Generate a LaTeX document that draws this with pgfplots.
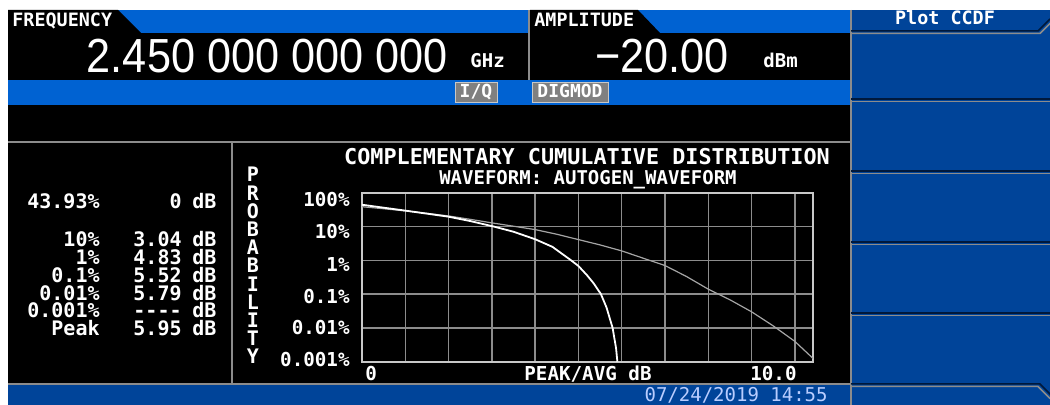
\documentclass[border=0pt]{standalone}
\usepackage{fontspec}
\usepackage{pgfplots}
\pgfplotsset{compat=1.18}
\setmainfont{Liberation Sans}
\newfontfamily\term{DejaVu Sans Mono}
\newfontfamily\bignum{Liberation Sans}
\newcommand{\fs}[1]{\fontsize{#1}{#1}\selectfont}
\definecolor{hdrblue}{RGB}{0,98,210}
\definecolor{keyblue}{RGB}{0,68,153}
\definecolor{lgray}{RGB}{140,140,140}
\definecolor{boxgray}{RGB}{200,200,200}
\definecolor{datecol}{RGB}{185,205,255}
\definecolor{btngray}{RGB}{128,128,128}
\definecolor{keydark}{RGB}{0,25,60}
\definecolor{refgray}{RGB}{165,165,165}
\begin{document}
\begin{tikzpicture}[x=0.5pt,y=-0.5pt]
\useasboundingbox (0,0) rectangle (1050,405);
\clip (0,0) rectangle (1050,405);
\fill[white] (0,0) rectangle (1050,405);
% top header
\fill[hdrblue] (8,10) rectangle (850,33);
\fill[black] (8,33) rectangle (850,80);
\fill[black] (8,10) -- (118,10) -- (141,33) -- (8,33) -- cycle;
\fill[black] (530,10) -- (638,10) -- (660,33) -- (530,33) -- cycle;
\draw[lgray, line width=0.75pt] (529,10) -- (529,80);
\fill[hdrblue] (8,80) rectangle (850,105);
\fill[black] (8,105) rectangle (850,385);
\draw[lgray, line width=1pt] (8,142.5) -- (850,142.5);
\draw[lgray, line width=1pt] (232,142.5) -- (232,384);
\draw[lgray, line width=1pt] (8,384) -- (850,384);
\fill[keyblue] (8,385) rectangle (850,405);
% softkeys
\fill[keyblue] (850,10) rectangle (1050,405);
\draw[lgray, line width=1pt] (850.5,10) -- (850.5,405);
\draw[keydark, line width=0.75pt] (851,31) -- (1038,31) -- (1050,19);
\draw[lgray, line width=0.75pt] (851,33.5) -- (1040,33.5) -- (1052,21.5);
\foreach \yd in {99,171,242,313}{
  \draw[keydark, line width=0.75pt] (851,\yd) -- (1050,\yd);
  \draw[lgray, line width=0.75pt] (851,\yd+2.5) -- (1050,\yd+2.5);
}
\draw[keydark, line width=0.75pt] (851,384) -- (1040,384) -- (1052,396);
\draw[lgray, line width=0.75pt] (851,386.5) -- (1038,386.5) -- (1050,398.5);
\node[text=white, anchor=base] at (945,25) {\term\bfseries\fs{9.2}Plot CCDF};
% header texts
\node[text=white, anchor=base west, inner sep=0pt] at (12,27) {\term\bfseries\fs{9.2}FREQUENCY};
\node[text=white, anchor=base west, inner sep=0pt] at (534,27) {\term\bfseries\fs{9.2}AMPLITUDE};
\node[text=white, anchor=base east, inner sep=0pt] at (448,73) {\scalebox{0.94}[1.04]{\bignum\fs{23}2.450 000 000 000}};
\node[text=white, anchor=base west, inner sep=0pt] at (470,68) {\term\bfseries\fs{9.5}GHz};
\node[text=white, anchor=base east, inner sep=0pt] at (729,73) {\scalebox{0.94}[1.04]{\bignum\fs{23}\char"2212 20.00}};
\node[text=white, anchor=base west, inner sep=0pt] at (763,68) {\term\bfseries\fs{9.5}dBm};
% buttons
\filldraw[fill=btngray, draw=boxgray, line width=0.5pt] (455,83) rectangle (497,103);
\node[text=white, anchor=base, inner sep=0pt] at (476,98) {\term\bfseries\fs{9}I/Q};
\filldraw[fill=btngray, draw=boxgray, line width=0.5pt] (532,83) rectangle (608,103);
\node[text=white, anchor=base, inner sep=0pt] at (570,98) {\term\bfseries\fs{9}DIGMOD};
% date
\node[text=datecol, anchor=base east, inner sep=0pt] at (828,402) {\term\fs{9.5}07/24/2019 14:55};
% left panel
\begin{scope}[every node/.style={text=white, inner sep=0pt, font=\term\bfseries\fs{10}}]
\node[anchor=base east] at (100,209) {43.93\%};
\node[anchor=base east] at (182,209) {0};
\node[anchor=base west] at (192,209) {dB};
\foreach \p/\v [count=\i from 0] in {10\%/3.04,1\%/4.83,0.1\%/5.52,0.01\%/5.79,0.001\%/{----},Peak/5.95}{
  \node[anchor=base east] at (100,247+17.7*\i) {\p};
  \node[anchor=base east] at (182,247+17.7*\i) {\v};
  \node[anchor=base west] at (192,247+17.7*\i) {dB};
}
% y tick labels
\foreach \t/\yy in {100\%/200,10\%/232,1\%/265,0.1\%/297,0.01\%/328,0.001\%/360}{
  \node[anchor=base east, font=\term\bfseries\fs{9.6}] at (350,\yy+7) {\t};
}
% PROBABILITY
\foreach \c [count=\i from 0] in {P,R,O,B,A,B,I,L,I,T,Y}{
  \node[anchor=base, font=\term\bfseries\fs{10}] at (253,182+18.2*\i) {\c};
}
\end{scope}
% chart titles
\node[text=white, inner sep=0pt, anchor=base] at (587,165) {\term\bfseries\fs{10.9}COMPLEMENTARY CUMULATIVE DISTRIBUTION};
\node[text=white, inner sep=0pt, anchor=base] at (588,185) {\term\bfseries\fs{9.5}WAVEFORM: AUTOGEN\_WAVEFORM};
\node[text=white, inner sep=0pt, anchor=base west] at (365,381) {\term\bfseries\fs{9.6}0};
\node[text=white, inner sep=0pt, anchor=base] at (588,381) {\term\bfseries\fs{9.6}PEAK/AVG dB};
\node[text=white, inner sep=0pt, anchor=base east] at (797,381) {\term\bfseries\fs{9.6}10.0};
\coordinate (plotnw) at (362,192.7);
\begin{axis}[at={(plotnw)}, anchor=north west, scale only axis,
  width=225.5pt, height=84.5pt,
  xmin=0, xmax=10.42, ymode=log, ymin=0.001, ymax=100,
  xtick={0,1,2,3,4,5,6,7,8,9,10}, xticklabels={},
  ytick={0.001,0.01,0.1,1,10,100}, yticklabels={},
  minor ytick={}, minor tick num=0,
  major tick length=0pt, minor tick length=0pt,
  grid=major, major grid style={lgray, line width=0.75pt},
  axis line style={boxgray, line width=1pt},
  clip=true]
\addplot[refgray, line width=0.6pt] coordinates {
(0,38.5) (0.5,33.5) (1,29.0) (1.5,24.5) (2,20.5) (2.5,16.3) (3,12.8) (3.5,10.2)
(4,8.1) (4.5,5.9) (5,4.1) (5.5,2.85) (6,1.9) (6.5,1.15) (7,0.7) (7.5,0.33)
(8,0.14) (8.5,0.068) (9,0.030) (9.5,0.0115) (10,0.0040) (10.42,0.00125)};
\addplot[white, line width=0.9pt] coordinates {
(0,44) (0.5,36) (1,29.5) (1.5,24) (2,19.5) (2.5,14.5) (3.04,10) (3.5,7.0)
(4,4.2) (4.4,2.5) (4.83,1.0) (5,0.68) (5.2,0.36) (5.35,0.21) (5.52,0.1)
(5.65,0.04) (5.72,0.02) (5.79,0.01) (5.83,0.005) (5.87,0.0025) (5.9,0.001)};
\end{axis}
\end{tikzpicture}
\end{document}
